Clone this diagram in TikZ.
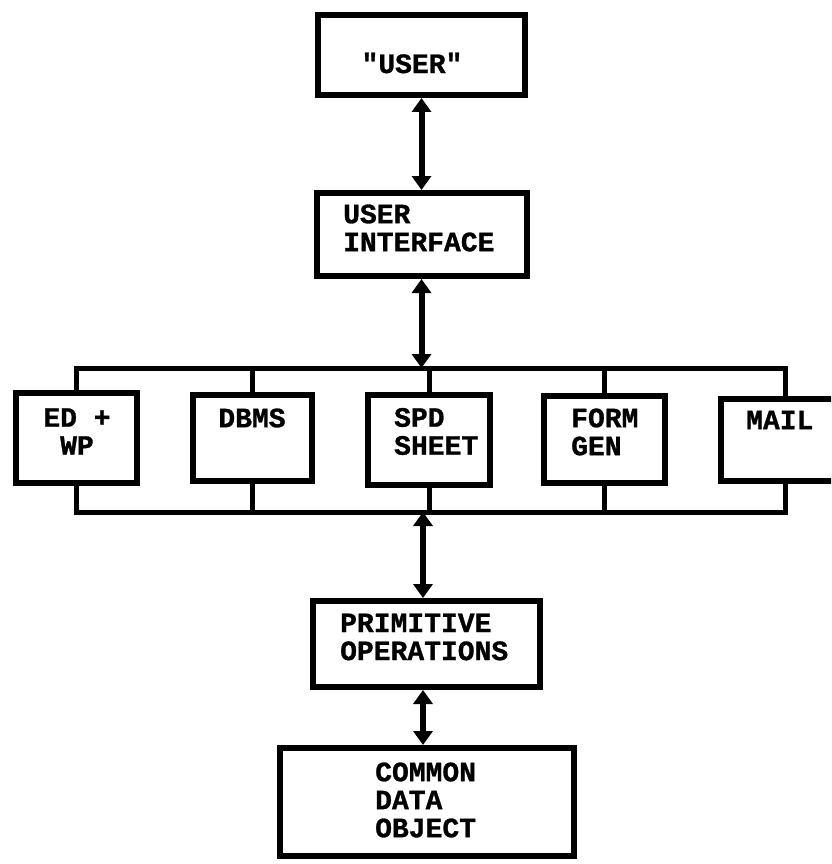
\documentclass[tikz,border=0pt]{standalone}
\usepackage{fontspec}
\newfontfamily\typ{Liberation Mono}[BoldFeatures={FakeBold=1}]
\usetikzlibrary{arrows.meta}
\begin{document}
\begin{tikzpicture}[x=1pt,y=-1pt,
  box/.style={draw=black, line width=6pt, rectangle, inner sep=0pt, line join=miter},
  lbl/.style={inner sep=0pt, font=\typ\bfseries\fontsize{28}{28}\selectfont, text=black},
  bus/.style={draw=black, line width=5pt, line join=miter},
  dbl/.style={draw=black, line width=6pt, {Triangle[width=19pt,length=14pt]}-{Triangle[width=19pt,length=14pt]}}]
\useasboundingbox (0,0) rectangle (831,864);
\clip (0,0) rectangle (831,864);
% boxes
\node[box, minimum width=207pt, minimum height=80pt] (user) at (421.5,55) {};
\node[box, minimum width=210pt, minimum height=83pt] (ui) at (421.5,234.5) {};
\node[box, minimum width=121pt, minimum height=90pt] (ed) at (76.5,438) {};
\node[box, minimum width=119pt, minimum height=86pt] (dbms) at (252.5,438) {};
\node[box, minimum width=122pt, minimum height=90pt] (spd) at (429,440) {};
\node[box, minimum width=121pt, minimum height=87pt] (form) at (604.5,439.5) {};
\node[box, minimum width=128pt, minimum height=82pt] (mail) at (785,440) {};
\node[box, minimum width=227pt, minimum height=86pt] (prim) at (426.5,644) {};
\node[box, minimum width=294pt, minimum height=108pt] (common) at (427,802) {};
% texts
\node[lbl] (usert) at (412,63) {"USER"};
\node[lbl, anchor=west, align=left] (uit) at (343,228) {USER\\INTERFACE};
\node[lbl, align=center] (edt) at (77,431.5) {ED +\\WP};
\node[lbl] (dbmst) at (252,418) {DBMS};
\node[lbl, anchor=west, align=left] (spdt) at (394,431.5) {SPD\\SHEET};
\node[lbl, anchor=west, align=left] (formt) at (571,432) {FORM\\GEN};
\node[lbl, anchor=west] (mailt) at (746,420) {MAIL};
\node[lbl, anchor=west, align=left] (primt) at (340,637) {PRIMITIVE\\OPERATIONS};
\node[lbl, anchor=west, align=left] (commont) at (375,800) {COMMON\\DATA\\OBJECT};
% bus coordinates
\coordinate (bustop) at (421.5,368);
\coordinate (busbot) at (423,512);
% top bus
\draw[bus] (ed.north) -- (ed.north |- bustop) -- (mail.north |- bustop) -- (mail.north);
\draw[bus] (dbms.north) -- (dbms.north |- bustop);
\draw[bus] (spd.north) -- (spd.north |- bustop);
\draw[bus] (form.north) -- (form.north |- bustop);
% bottom bus
\draw[bus] (ed.south) -- (ed.south |- busbot) -- (mail.south |- busbot) -- (mail.south);
\draw[bus] (dbms.south) -- (dbms.south |- busbot);
\draw[bus] (spd.south) -- (spd.south |- busbot);
\draw[bus] (form.south) -- (form.south |- busbot);
% arrows
\draw[dbl] (user.south) -- (ui.north);
\draw[dbl] (ui.south) -- (bustop);
\draw[dbl] (busbot) -- (prim.north -| busbot);
\draw[dbl] (prim.south -| busbot) -- (common.north -| busbot);
\end{tikzpicture}
\end{document}
